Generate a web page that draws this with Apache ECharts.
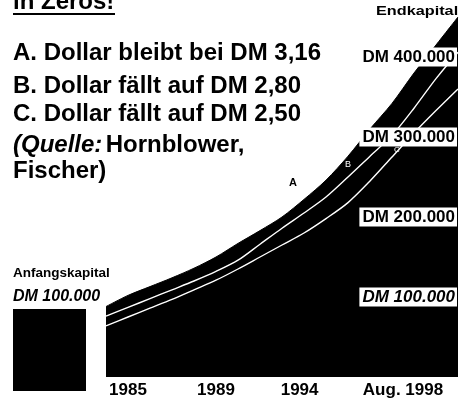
<!DOCTYPE html>
<html>
<head>
<meta charset="utf-8">
<script src="https://cdn.jsdelivr.net/npm/echarts@6/dist/echarts.min.js"></script>
<style>
  html, body { margin: 0; padding: 0; background: #fff; }
  #chart { width: 476px; height: 409px; }
</style>
</head>
<body>
<div id="chart"></div>
<script>
// Kapitalentwicklung in Tausend DM, von 1985 bis Aug. 1998
var steps = [0, 1, 2, 3, 4, 5, 6, 7, 8, 9, 10, 11, 12, 13, 14, 15, 16];
var seriesA = [88, 102, 113, 124, 136, 150, 167, 183, 200, 222, 246, 276, 310, 342, 380, 415, 450];
var seriesB = [76, 87, 98, 109, 120, 132, 146, 166, 186, 205, 225, 250, 276, 302, 336, 373, 406];
var seriesC = [64, 75, 86, 97, 109, 121, 135, 150, 165, 180, 198, 218, 245, 275, 305, 333, 360];
var initialCapital = [100];

var tickPos = [1, 5, 8.8, 13.5];
var tickLabels = ["1985", "1989", "1994", "Aug. 1998"];
var yTicks = [100, 200, 300, 400];
var yTickLabels = ["DM 100.000", "DM 200.000", "DM 300.000", "DM 400.000"];

var legendLines = [
  "A. Dollar bleibt bei DM 3,16",
  "B. Dollar fällt auf DM 2,80",
  "C. Dollar fällt auf DM 2,50"
];

var FONT = "'Liberation Sans', Arial, sans-serif";

function pairs(vals) {
  return vals.map(function (v, i) { return [steps[i], v]; });
}

var chart = echarts.init(document.getElementById("chart"));

chart.setOption({
  animation: false,
  backgroundColor: "#fff",
  textStyle: { fontFamily: FONT },
  grid: [
    { left: 106, right: 18, top: 9, bottom: 32, containLabel: false, outerBoundsMode: "none" },
    { left: 13, top: 309, width: 73, height: 82, containLabel: false, outerBoundsMode: "none" }
  ],
  xAxis: [
    {
      type: "value", gridIndex: 0, min: 0, max: 16,
      axisLine: { show: false }, axisTick: { show: false }, splitLine: { show: false },
      axisLabel: {
        customValues: tickPos,
        margin: 5,
        color: "#000", fontSize: 17, fontWeight: "bold", fontFamily: FONT,
        formatter: function (v) {
          var i = tickPos.indexOf(v);
          return i >= 0 ? tickLabels[i] : "";
        }
      }
    },
    { type: "category", gridIndex: 1, data: ["Anfangskapital"], show: false }
  ],
  yAxis: [
    {
      type: "value", gridIndex: 0, min: 0, max: 460, position: "right", z: 10,
      axisLine: { show: false }, axisTick: { show: false }, splitLine: { show: false },
      axisLabel: {
        inside: true,
        customValues: yTicks,
        margin: 1,
        color: "#000", fontSize: 17, fontWeight: "bold", fontFamily: FONT,
        backgroundColor: "#fff",
        padding: [1, 2, 1, 3],
        formatter: function (v) {
          var i = yTicks.indexOf(v);
          if (i < 0) return "";
          // the lowest mark is set in italics in the original
          return i === 0 ? "{it|" + yTickLabels[i] + "}" : yTickLabels[i];
        },
        rich: {
          it: { fontStyle: "italic", fontWeight: "bold", fontSize: 17, fontFamily: FONT, color: "#000" }
        }
      }
    },
    { type: "value", gridIndex: 1, min: 0, max: 100, show: false }
  ],
  series: [
    {
      name: "A", type: "line", xAxisIndex: 0, yAxisIndex: 0,
      data: pairs(seriesA), smooth: 0.3, symbol: "none",
      lineStyle: { color: "#000", width: 1 },
      areaStyle: { color: "#000", opacity: 1 },
      z: 2
    },
    {
      name: "B", type: "line", xAxisIndex: 0, yAxisIndex: 0,
      data: pairs(seriesB), smooth: 0.3, symbol: "none",
      lineStyle: { color: "#fff", width: 1.4 },
      z: 3
    },
    {
      name: "C", type: "line", xAxisIndex: 0, yAxisIndex: 0,
      data: pairs(seriesC), smooth: 0.3, symbol: "none",
      lineStyle: { color: "#fff", width: 1.4 },
      z: 3
    },
    {
      name: "Anfangskapital", type: "bar", xAxisIndex: 1, yAxisIndex: 1,
      data: initialCapital, barWidth: "100%",
      itemStyle: { color: "#000" }
    }
  ],
  graphic: [
    { type: "text", x: 13, y: 2, style: { text: "in Zeros!", font: "bold 24px " + FONT, fill: "#000", verticalAlign: "middle" } },
    { type: "rect", shape: { x: 13, y: 13, width: 102, height: 2 }, style: { fill: "#000" } },
    { type: "text", x: 13, y: 53, style: { text: legendLines[0], font: "bold 24px " + FONT, fill: "#000", verticalAlign: "middle" } },
    { type: "text", x: 13, y: 86, style: { text: legendLines[1], font: "bold 24px " + FONT, fill: "#000", verticalAlign: "middle" } },
    { type: "text", x: 13, y: 114, style: { text: legendLines[2], font: "bold 24px " + FONT, fill: "#000", verticalAlign: "middle" } },
    {
      type: "text", x: 13, y: 145,
      style: {
        text: "{i|(Quelle:} {n|Hornblower,}",
        verticalAlign: "middle",
        rich: {
          i: { font: "italic bold 24px " + FONT, fill: "#000" },
          n: { font: "bold 24px " + FONT, fill: "#000" }
        }
      }
    },
    { type: "text", x: 13, y: 171, style: { text: "Fischer)", font: "bold 24px " + FONT, fill: "#000", verticalAlign: "middle" } },
    { type: "text", x: 376, y: 11, scaleX: 1.25, style: { text: "Endkapital", font: "bold 13px " + FONT, fill: "#000", verticalAlign: "middle" } },
    { type: "text", x: 13, y: 273, style: { text: "Anfangskapital", font: "bold 13.5px " + FONT, fill: "#000", verticalAlign: "middle" } },
    { type: "text", x: 13, y: 297, style: { text: "DM 100.000", font: "italic bold 16px " + FONT, fill: "#000", verticalAlign: "middle" } },
    { type: "text", x: 293, y: 183, style: { text: "A", font: "bold 11px " + FONT, fill: "#000", align: "center", verticalAlign: "middle" } },
    { type: "text", x: 348, y: 165, z: 20, style: { text: "B", font: "9px " + FONT, fill: "#fff", align: "center", verticalAlign: "middle" } },
    { type: "text", x: 397, y: 150, z: 20, style: { text: "C", font: "8px " + FONT, fill: "#fff", align: "center", verticalAlign: "middle" } }
  ]
});
</script>
</body>
</html>
